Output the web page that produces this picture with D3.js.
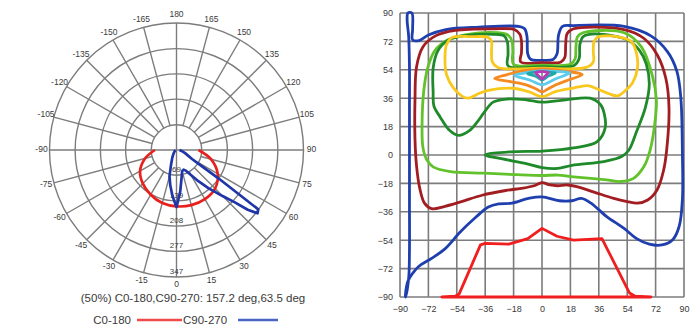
<!DOCTYPE html>
<html><head><meta charset="utf-8">
<script src="https://cdn.jsdelivr.net/npm/d3@7"></script>
<style>
html,body{margin:0;padding:0;background:#fff;}
svg{display:block;font-family:"Liberation Sans",Arial,sans-serif;}
</style></head>
<body>
<svg id="c" width="691" height="330"></svg>
<script>
// ---------- Polar chart data ----------
const ringValues = [69, 139, 208, 277, 347];
const angleTicks = d3.range(-165, 181, 15);
const c0Angles = [-90, -75, -60, -45, -30, -15, 0, 15, 30, 45, 60, 75, 90];
const c0Values = [59, 89, 115, 130, 141, 150, 154, 156, 155, 149, 130, 98, 60];
const c90Angles = [-90, -75, -60, -45, -35, -30, -25, -20, -15, -10, -5, 0, 5, 10, 15, 20, 25, 30, 35, 40, 45, 48, 50, 52, 54, 56, 58, 60, 65, 70, 80, 90];
const c90Values = [3, 4, 5, 10, 16, 22, 30, 44, 74, 98, 126, 156, 115, 79, 60, 57, 63, 79, 104, 137, 178, 213, 254, 281, 276, 137, 68, 49, 33, 25, 14, 8];
const beamText = "(50%) C0-180,C90-270: 157.2 deg,63.5 deg";
const legendNames = ["C0-180", "C90-270"];

// ---------- Iso-candela chart data (x, y in degrees) ----------
const gridTicks = [-90, -72, -54, -36, -18, 0, 18, 36, 54, 72, 90];
const blueLine = [[-86.5,-90],[-84.5,-78],[-84,-60],[-84,-30],[-84,0],[-84,30],[-84,55],[-84.5,75],[-85.5,86],[-85,90],[-82.5,90],[-82,80],[-82,73],[-78,72.5],[-72,76],[-61,79.5],[-40,81],[-15,81.5],[-11,80],[-9.5,75],[-9,64],[-7,60.5],[0,60],[7,60.5],[9.5,64],[10.5,76],[13,81.5],[20,82],[52,81.5],[69,75.5],[79.5,65.5],[85.5,53],[88,36],[89,0],[89,-28],[87,-45],[83,-53.5],[76,-57],[68,-56.5],[60,-53],[52,-46.5],[41,-39],[31,-30.5],[25,-27.5],[19,-29],[11,-29],[0,-26.5],[-8.5,-27.5],[-19,-30.5],[-27.5,-31],[-34,-33],[-42,-39.5],[-52,-49],[-61.5,-59.5],[-70,-65.5],[-78,-70.5],[-82,-75],[-85,-80],[-86.5,-88]];
const maroonLine = [[-13.5,59],[-13,65],[-13,72],[-14,76.5],[-17.5,79.5],[-30,80],[-55,79],[-67.5,75.5],[-75.5,68.5],[-79.5,56],[-80.5,35],[-80.5,10],[-79.5,-7],[-77.5,-21],[-74.5,-30.5],[-70,-34],[-61.5,-32.5],[-51,-29.5],[-38,-25.5],[-23,-22.5],[-12,-21],[-5,-19.5],[0,-17.5],[5,-19],[10,-19.5],[16,-19],[22,-20],[33,-23.5],[45.5,-27.5],[54,-29.5],[60.5,-30.5],[67,-28.5],[73,-22],[77,-10],[79,3],[80.5,30],[78.5,48.5],[73,63.5],[64.5,74],[52,79.5],[20,80],[16,77],[15,70],[14.5,62],[12,59],[0,58.5]];
const lightGreenLine = [[-18,57.5],[-18.5,66],[-19,72],[-21.5,76],[-28,77.5],[-47,76.5],[-59.5,73],[-68,66],[-72.5,55],[-75,40],[-76,20],[-75.5,5],[-73,-3],[-69,-7.5],[-58,-10.5],[-37,-11.5],[-16,-12.5],[0,-13],[10,-12.7],[20,-13.8],[31,-14.8],[41,-15.8],[50,-16.8],[58,-14.8],[64.5,-7.5],[68.5,3],[71.5,20],[72.5,35],[70,50],[63,68.5],[52,77.5],[26,77.5],[22.5,75],[21.5,68],[21,61],[18,57.5],[0,57]];
const darkGreenLine = [[-21.5,56.5],[-21.5,64],[-22,72],[-24,75.5],[-31,76.5],[-50,75.5],[-60,72.5],[-66,66],[-69,55],[-69,40],[-68.5,31],[-64.5,24],[-58.5,15.5],[-53,12.5],[-46,15.5],[-41,21],[-37,26.5],[-31,33.5],[-22,35.5],[-10,35],[0,33.5],[15,35],[30.5,36],[37,32],[39.5,26],[40,17],[35,8.5],[20,4.5],[0,2.5],[-20,2],[-36,0],[-25,-2.5],[-10,-5.5],[0,-8],[10,-8.5],[19,-6.5],[40,-4],[50.5,-1],[55,3],[60,15],[65.5,30],[68,45],[66,58],[62,66],[55,72.5],[45,75.5],[30,76.5],[26,75],[24,70],[23.5,61],[20,56.5],[0,56]];
const yellowLine = [[-28,55.5],[-31.5,59],[-32,66],[-32,72],[-34,74.5],[-45,75],[-57,74.5],[-60.5,70],[-61.5,62],[-60.5,51],[-56.5,43],[-51,37.5],[-46.5,36],[-40,39],[-34,41],[-19,42.3],[-8,40],[0,37],[8,40],[19,42.3],[29,44],[36,41.5],[42,39],[48,37.5],[53,41],[57.5,46],[60.5,55],[60,64],[57,71.5],[50,74.5],[36,75],[33,72],[32.5,66],[32.5,59],[28,55.5],[0,55]];
const orangeLine = [[-30,48.5],[-22,51],[-14,53],[-6,54],[0,54.5],[8,54],[16,53],[25.5,51],[18,48],[10,45],[4,42],[0,40],[-4,42],[-10,44.5],[-20,46.5]];
const cyanLine = [[-17.5,50.5],[-8,52.5],[0,53.5],[8,53],[17.5,52],[8,48],[2,45],[0,44.5],[-2,45],[-8,47.5]];
const tealLine = [[-9,51.5],[-4,52.5],[0,53],[4,52.5],[8.5,52],[4,50],[0,47.5],[-4,50]];
const magentaLine = [[-4,52.3],[0,52.8],[4,52.3],[2,50],[0,48.3],[-2,50]];
const redLine = [[-63.5,-90],[-55,-89.5],[-52.5,-88],[-39,-57],[-36,-56],[-21,-56.5],[-9,-53],[0,-46.5],[9.5,-51.5],[20,-54],[38,-53],[55.5,-87.5],[59,-89.5],[69,-90]];

const svg = d3.select("#c");
const gridColor = "#7c7c7c";
const textColor = "#3a3a3a";

// ================= POLAR =================
const cx = 176.5, cy = 150, R = 127;
const r = d3.scaleLinear().domain([0, 347]).range([0, R]);
const rad = a => a * Math.PI / 180;
const P = svg.append("g");

ringValues.forEach(v => {
  P.append("circle").attr("cx", cx).attr("cy", cy).attr("r", r(v))
    .attr("fill", "none").attr("stroke", gridColor).attr("stroke-width", 1.4);
});
angleTicks.forEach(a => {
  const r0 = (a % 90 === 0) ? 0 : r(ringValues[0]);
  const s = Math.sin(rad(a)), c = Math.cos(rad(a));
  P.append("line")
    .attr("x1", cx + r0 * s).attr("y1", cy + r0 * c)
    .attr("x2", cx + R * s).attr("y2", cy + R * c)
    .attr("stroke", gridColor).attr("stroke-width", 1.4);
  const lr = R + 8;
  P.append("text").attr("x", cx + lr * s).attr("y", cy + lr * c)
    .attr("text-anchor", "middle").attr("dominant-baseline", "middle")
    .attr("font-size", 8.5).attr("fill", textColor)
    .text(a === 180 ? "180" : String(a));
});
ringValues.forEach(v => {
  P.append("text").attr("x", cx).attr("y", cy + r(v) - 3)
    .attr("text-anchor", "middle").attr("font-size", 8).attr("fill", textColor)
    .text(v);
});

const radialLine = d3.lineRadial()
  .angle(d => Math.PI - rad(d[0]))
  .radius(d => r(d[1]))
  .curve(d3.curveCatmullRom.alpha(0.5));
P.append("path").datum(c0Angles.map((a, i) => [a, c0Values[i]]))
  .attr("transform", `translate(${cx},${cy})`)
  .attr("d", radialLine).attr("fill", "none")
  .attr("stroke", "#e8201e").attr("stroke-width", 2.7);
P.append("path").datum(c90Angles.map((a, i) => [a, c90Values[i]]))
  .attr("transform", `translate(${cx},${cy})`)
  .attr("d", radialLine.curve(d3.curveLinear)).attr("fill", "none")
  .attr("stroke", "#1f35a8").attr("stroke-width", 2.7).attr("stroke-linejoin", "round");

P.append("text").attr("x", 193).attr("y", 302).attr("text-anchor", "middle")
  .attr("font-size", 11.5).attr("fill", textColor).text(beamText);
P.append("text").attr("x", 131).attr("y", 324).attr("text-anchor", "end")
  .attr("font-size", 11.5).attr("fill", textColor).text(legendNames[0]);
P.append("line").attr("x1", 137).attr("x2", 182).attr("y1", 320).attr("y2", 320)
  .attr("stroke", "#ee4a4a").attr("stroke-width", 2.5);
P.append("text").attr("x", 183).attr("y", 324).attr("text-anchor", "start")
  .attr("font-size", 11.5).attr("fill", textColor).text(legendNames[1]);
P.append("line").attr("x1", 238).attr("x2", 278).attr("y1", 320).attr("y2", 320)
  .attr("stroke", "#4a66c4").attr("stroke-width", 2.5);

// ================= ISO CHART =================
const x = d3.scaleLinear().domain([-90, 90]).range([400, 684]);
const y = d3.scaleLinear().domain([-90, 90]).range([297, 13]);
const G = svg.append("g");
gridTicks.forEach(t => {
  G.append("line").attr("x1", x(t)).attr("x2", x(t)).attr("y1", y(-90)).attr("y2", y(90))
    .attr("stroke", gridColor).attr("stroke-width", 1.6);
  G.append("line").attr("x1", x(-90)).attr("x2", x(90)).attr("y1", y(t)).attr("y2", y(t))
    .attr("stroke", gridColor).attr("stroke-width", 1.6);
});
const yAxis = d3.axisLeft(y).tickValues(gridTicks).tickSize(0).tickPadding(7);
const xAxis = d3.axisBottom(x).tickValues(gridTicks).tickSize(0).tickPadding(9);
const ya = G.append("g").attr("transform", `translate(${x(-90)},0)`).call(yAxis);
const xa = G.append("g").attr("transform", `translate(0,${y(-90)})`).call(xAxis);
[ya, xa].forEach(a => {
  a.select(".domain").remove();
  a.selectAll("text").attr("font-size", 9).attr("fill", textColor)
    .attr("font-family", "Liberation Sans, Arial, sans-serif");
});

const smooth = d3.line().x(d => x(d[0])).y(d => y(d[1])).curve(d3.curveCatmullRomClosed.alpha(0.5));
const straight = d3.line().x(d => x(d[0])).y(d => y(d[1])).curve(d3.curveLinearClosed);
const contours = [
  [blueLine, "#1f3fae", smooth],
  [maroonLine, "#a21d22", smooth],
  [lightGreenLine, "#62c22b", smooth],
  [darkGreenLine, "#1f8a2a", smooth],
  [yellowLine, "#f8c81e", smooth],
  [orangeLine, "#f58a20", smooth],
  [cyanLine, "#5ccbec", smooth],
  [tealLine, "#1fa8a8", smooth],
  [magentaLine, "#b83ab8", smooth],
  [redLine, "#f01e1e", straight]
];
contours.forEach(([data, col, gen]) => {
  G.append("path").datum(data).attr("d", gen).attr("fill", "none")
    .attr("stroke", col).attr("stroke-width", 2.8).attr("stroke-linejoin", "round");
});
</script>
</body></html>
